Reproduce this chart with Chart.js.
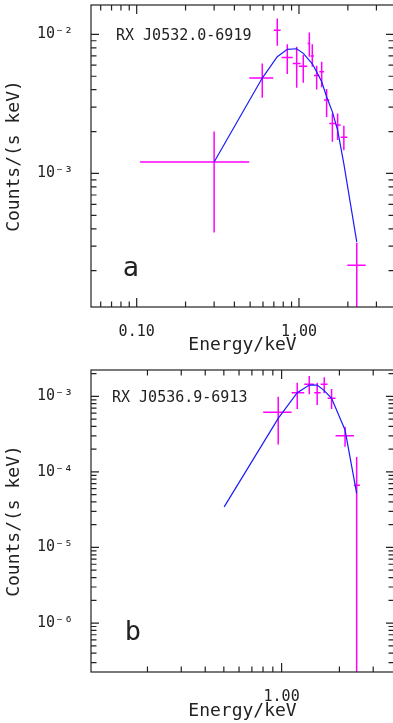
<!DOCTYPE html>
<html>
<head>
<meta charset="utf-8">
<title>RX J0532.0-6919 / RX J0536.9-6913 spectra</title>
<script src="https://cdn.jsdelivr.net/npm/chart.js@4.4.1/dist/chart.umd.min.js"></script>
<style>
  html, body { margin: 0; padding: 0; background: #fff; overflow: hidden; width: 393px; height: 723px; }
  canvas { display: block; }
</style>
</head>
<body>
<canvas id="panelA" width="396" height="360"></canvas>
<canvas id="panelB" width="396" height="363"></canvas>
<script>
// ---- panel a : RX J0532.0-6919 ----
const nameA = 'RX J0532.0-6919';
const energyA   = [0.30, 0.594, 0.735, 0.847, 0.968, 1.063, 1.158, 1.208, 1.285, 1.38, 1.48, 1.606, 1.73, 1.89, 2.27];
const energyLoA = [0.105, 0.494, 0.70, 0.782, 0.915, 1.00, 1.13, 1.18, 1.237, 1.334, 1.426, 1.537, 1.683, 1.807, 1.985];
const energyHiA = [0.494, 0.695, 0.771, 0.915, 1.024, 1.125, 1.175, 1.237, 1.334, 1.426, 1.537, 1.683, 1.807, 1.985, 2.576];
const rateA     = [1.21e-3, 4.85e-3, 1.07e-2, 6.83e-3, 6.18e-3, 5.91e-3, 8.6e-3, 6.98e-3, 5.07e-3, 5.38e-3, 3.37e-3, 2.29e-3, 2.23e-3, 1.82e-3, 2.19e-4];
const rateLoA   = [3.76e-4, 3.5e-3, 8.28e-3, 5.18e-3, 4.13e-3, 4.49e-3, 6.9e-3, 5.85e-3, 4.02e-3, 4.16e-3, 2.55e-3, 1.69e-3, 1.74e-3, 1.47e-3, 1e-5];
const rateHiA   = [2.0e-3, 6.18e-3, 1.30e-2, 8.48e-3, 8.14e-3, 7.1e-3, 1.03e-2, 8.48e-3, 5.95e-3, 6.35e-3, 4.04e-3, 2.7e-3, 2.7e-3, 2.2e-3, 3.17e-4];
const modelA    = [1.21e-3, 4.85e-3, 6.9e-3, 7.8e-3, 7.88e-3, 7.3e-3, 6.5e-3, 6.15e-3, 5.38e-3, 4.56e-3, 3.56e-3, 2.77e-3, 2.05e-3, 1.17e-3, 3.22e-4];
const xTicksA = [0.1, 1];
const xLabelsA = ['0.10', '1.00'];
const yTicksA = [1e-3, 1e-2];
const yLabelsA = ['10⁻³', '10⁻²'];

// ---- panel b : RX J0536.9-6913 ----
const nameB = 'RX J0536.9-6913';
const energyB   = [0.96, 1.206, 1.393, 1.532, 1.667, 1.821, 2.14, 2.46];
const energyLoB = [0.802, 1.127, 1.311, 1.479, 1.596, 1.736, 1.91, 2.38];
const energyHiB = [1.127, 1.311, 1.479, 1.596, 1.736, 1.91, 2.38, 2.557];
const rateB     = [6.14e-4, 1.116e-3, 1.44e-3, 1.116e-3, 1.44e-3, 9.41e-4, 3.01e-4, 6.68e-5];
const rateLoB   = [2.31e-4, 6.79e-4, 1.063e-3, 7.67e-4, 1.096e-3, 6.79e-4, 2.15e-4, 1e-8];
const rateHiB   = [9.9e-4, 1.51e-3, 1.86e-3, 1.51e-3, 1.785e-3, 1.25e-3, 3.96e-4, 1.58e-4];
const modelEnergyB = [0.502, 0.96, 1.206, 1.393, 1.532, 1.667, 1.821, 2.14, 2.46];
const modelB       = [3.45e-5, 5.1e-4, 1.116e-3, 1.41e-3, 1.41e-3, 1.19e-3, 9.4e-4, 3.58e-4, 5.19e-5];
const xTicksB = [1];
const xLabelsB = ['1.00'];
const yTicksB = [1e-6, 1e-5, 1e-4, 1e-3];
const yLabelsB = ['10⁻⁶', '10⁻⁵', '10⁻⁴', '10⁻³'];

const MAGENTA = '#ff00ff';
const BLUE = '#1a1aff';
const INK = '#222';
const FONT = 'DejaVu Sans Mono';

// minor + major log ticks for the inside tick marks
function logTicks(min, max) {
    const out = [];
    for (let d = Math.floor(Math.log10(min)); d <= Math.ceil(Math.log10(max)); d++) {
        for (let m = 1; m <= 9; m++) {
            const v = m * Math.pow(10, d);
            if (v >= min * 0.999 && v <= max * 1.001) out.push({ v: v, major: m === 1 });
        }
    }
    return out;
}

// magenta crosses (asymmetric errors) drawn before the model line
const errorBars = {
    id: 'errorBars',
    beforeDatasetsDraw(chart) {
        const { ctx, chartArea: a, scales: { x, y } } = chart;
        ctx.save();
        ctx.beginPath();
        ctx.rect(a.left, a.top, a.right - a.left, a.bottom - a.top);
        ctx.clip();
        ctx.strokeStyle = MAGENTA;
        ctx.lineWidth = 1.5;
        chart.data.datasets.forEach((ds) => {
            if (!ds.err) return;
            ds.data.forEach((p, i) => {
                const px = x.getPixelForValue(p.x);
                const py = y.getPixelForValue(p.y);
                ctx.beginPath();
                ctx.moveTo(x.getPixelForValue(ds.err.xlo[i]), py);
                ctx.lineTo(x.getPixelForValue(ds.err.xhi[i]), py);
                ctx.moveTo(px, y.getPixelForValue(ds.err.ylo[i]));
                ctx.lineTo(px, y.getPixelForValue(ds.err.yhi[i]));
                ctx.stroke();
            });
        });
        ctx.restore();
    },
};

// box frame with inward ticks on all four sides + panel texts
const frame = {
    id: 'frame',
    afterDraw(chart, args, opts) {
        const { ctx, chartArea: a, scales: { x, y } } = chart;
        ctx.save();
        ctx.strokeStyle = INK;
        ctx.lineWidth = 1.2;
        ctx.strokeRect(a.left, a.top, a.right - a.left, a.bottom - a.top);
        ctx.beginPath();
        logTicks(x.min, x.max).forEach((t) => {
            const px = x.getPixelForValue(t.v);
            const len = t.major ? 9 : 5.5;
            ctx.moveTo(px, a.bottom); ctx.lineTo(px, a.bottom - len);
            ctx.moveTo(px, a.top); ctx.lineTo(px, a.top + len);
        });
        logTicks(y.min, y.max).forEach((t) => {
            const py = y.getPixelForValue(t.v);
            const len = t.major ? 8 : 5.5;
            ctx.moveTo(a.left, py); ctx.lineTo(a.left + len, py);
            ctx.moveTo(a.right, py); ctx.lineTo(a.right - len, py);
        });
        ctx.stroke();

        ctx.fillStyle = INK;
        ctx.textBaseline = 'alphabetic';
        ctx.textAlign = 'left';
        ctx.font = '15px "' + FONT + '"';
        ctx.fillText(opts.name, opts.nameX, opts.nameY);
        ctx.textAlign = 'center';
        ctx.font = '27px "' + FONT + '"';
        ctx.fillText(opts.letter, opts.letterX, opts.letterY);
        ctx.restore();
    },
};

function makeChart(id, cfg) {
    return new Chart(document.getElementById(id), {
        type: 'scatter',
        data: {
            datasets: [
                {
                    label: 'data',
                    data: cfg.energy.map((e, i) => ({ x: e, y: cfg.rate[i] })),
                    pointRadius: 0,
                    showLine: false,
                    err: { xlo: cfg.energyLo, xhi: cfg.energyHi, ylo: cfg.rateLo, yhi: cfg.rateHi },
                },
                {
                    label: 'model',
                    type: 'line',
                    data: cfg.modelEnergy.map((e, i) => ({ x: e, y: cfg.model[i] })),
                    borderColor: BLUE,
                    borderWidth: 1.2,
                    pointRadius: 0,
                    tension: 0,
                    fill: false,
                },
            ],
        },
        options: {
            responsive: false,
            animation: false,
            devicePixelRatio: 1,
            layout: { padding: { top: cfg.padTop, right: 2, bottom: 0, left: 0 } },
            plugins: {
                legend: { display: false },
                tooltip: { enabled: false },
                frame: cfg.texts,
            },
            scales: {
                x: {
                    type: 'logarithmic',
                    position: 'bottom',
                    min: cfg.xMin,
                    max: cfg.xMax,
                    grid: { display: false },
                    border: { display: false },
                    afterBuildTicks: (s) => { s.ticks = cfg.xTicks.map((v) => ({ value: v })); },
                    afterFit: (s) => { s.height = cfg.xAxisHeight; s.paddingLeft = 0; s.paddingRight = 0; },
                    ticks: {
                        padding: 8,
                        color: INK,
                        maxRotation: 0,
                        autoSkip: false,
                        font: { family: FONT, size: 15 },
                        callback: (v) => cfg.xLabels[cfg.xTicks.indexOf(v)],
                    },
                    title: {
                        display: true,
                        text: 'Energy/keV',
                        color: INK,
                        font: { family: FONT, size: 18 },
                        padding: { top: 0, bottom: cfg.xTitlePad },
                    },
                },
                y: {
                    type: 'logarithmic',
                    position: 'left',
                    min: cfg.yMin,
                    max: cfg.yMax,
                    grid: { display: false },
                    border: { display: false },
                    afterBuildTicks: (s) => { s.ticks = cfg.yTicks.map((v) => ({ value: v })); },
                    afterFit: (s) => { s.width = 91; s.paddingTop = 0; s.paddingBottom = 0; },
                    ticks: {
                        padding: 10,
                        color: INK,
                        autoSkip: false,
                        font: { family: FONT, size: 15 },
                        callback: (v) => cfg.yLabels[cfg.yTicks.indexOf(v)],
                    },
                    title: {
                        display: true,
                        text: 'Counts/(s keV)',
                        color: INK,
                        font: { family: FONT, size: 18 },
                        padding: { top: 4, bottom: 0 },
                    },
                },
            },
        },
        plugins: [errorBars, frame],
    });
}

makeChart('panelA', {
    energy: energyA, energyLo: energyLoA, energyHi: energyHiA,
    rate: rateA, rateLo: rateLoA, rateHi: rateHiA,
    modelEnergy: energyA, model: modelA,
    xTicks: xTicksA, xLabels: xLabelsA, yTicks: yTicksA, yLabels: yLabelsA,
    xMin: 0.0523, xMax: 3.85, yMin: 1.096e-4, yMax: 0.01626,
    padTop: 5, xAxisHeight: 53, xTitlePad: 4,
    texts: { name: nameA, nameX: 116, nameY: 39.5, letter: 'a', letterX: 131, letterY: 276 },
});

makeChart('panelB', {
    energy: energyB, energyLo: energyLoB, energyHi: energyHiB,
    rate: rateB, rateLo: rateLoB, rateHi: rateHiB,
    modelEnergy: modelEnergyB, model: modelB,
    xTicks: xTicksB, xLabels: xLabelsB, yTicks: yTicksB, yLabels: yLabelsB,
    xMin: 0.1016, xMax: 3.85, yMin: 2.25e-7, yMax: 2.23e-3,
    padTop: 10, xAxisHeight: 51, xTitlePad: 1,
    texts: { name: nameB, nameX: 112, nameY: 41.7, letter: 'b', letterX: 133, letterY: 280 },
});
</script>
</body>
</html>
